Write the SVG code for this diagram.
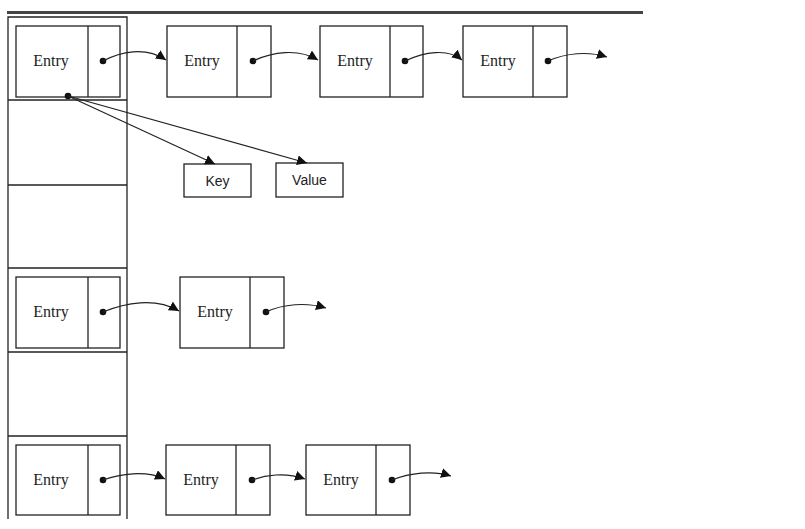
<svg xmlns="http://www.w3.org/2000/svg" width="805" height="529" viewBox="0 0 805 529">
<defs>
<style>
.box{fill:none;stroke:#222;stroke-width:1.3}
.ln{fill:none;stroke:#222;stroke-width:1.3}
.con{fill:none;stroke:#222;stroke-width:1.2;marker-end:url(#ah)}
.dot{fill:#111}
.et{font-family:"Liberation Serif",serif;font-size:16px;fill:#222;text-anchor:middle}
.kt{font-family:"Liberation Sans",Arial,sans-serif;font-size:14px;fill:#222;text-anchor:middle}
</style>
<marker id="ah" markerUnits="userSpaceOnUse" markerWidth="12" markerHeight="12" refX="10" refY="5" orient="auto">
<path d="M0,0 L10,5 L0,10 z" fill="#111"/>
</marker>
</defs>
<rect x="7" y="11" width="636" height="3" fill="#444"/>
<g id="table">
<path class="ln" d="M8,519 V17 H127 V519"/>
<line class="ln" x1="8" y1="100" x2="127" y2="100"/>
<line class="ln" x1="8" y1="185" x2="127" y2="185"/>
<line class="ln" x1="8" y1="268" x2="127" y2="268"/>
<line class="ln" x1="8" y1="352" x2="127" y2="352"/>
<line class="ln" x1="8" y1="436" x2="127" y2="436"/>
</g>
<g id="e1a"><rect class="box" x="16" y="26" width="104" height="71"/><line class="ln" x1="88" y1="26" x2="88" y2="97"/><text class="et" x="51" y="66">Entry</text><circle class="dot" cx="103" cy="61" r="3.3"/><circle class="dot" cx="68" cy="96" r="3.3"/></g>
<g id="e1b"><rect class="box" x="167" y="26" width="104" height="71"/><line class="ln" x1="237" y1="26" x2="237" y2="97"/><text class="et" x="202" y="66">Entry</text><circle class="dot" cx="253" cy="61" r="3.3"/></g>
<g id="e1c"><rect class="box" x="320" y="26" width="103" height="71"/><line class="ln" x1="390" y1="26" x2="390" y2="97"/><text class="et" x="355" y="66">Entry</text><circle class="dot" cx="405" cy="61" r="3.3"/></g>
<g id="e1d"><rect class="box" x="463" y="26" width="104" height="71"/><line class="ln" x1="533" y1="26" x2="533" y2="97"/><text class="et" x="498" y="66">Entry</text><circle class="dot" cx="548" cy="61" r="3.3"/></g>
<g id="key"><rect class="box" x="184" y="164" width="67" height="33"/><text class="kt" x="217.5" y="186">Key</text></g>
<g id="value"><rect class="box" x="276" y="163" width="67" height="34"/><text class="kt" x="309.5" y="185">Value</text></g>
<g id="e4a"><rect class="box" x="16" y="277" width="104" height="71"/><line class="ln" x1="88" y1="277" x2="88" y2="348"/><text class="et" x="51" y="317">Entry</text><circle class="dot" cx="103" cy="312" r="3.3"/></g>
<g id="e4b"><rect class="box" x="180" y="277" width="104" height="71"/><line class="ln" x1="250" y1="277" x2="250" y2="348"/><text class="et" x="215" y="317">Entry</text><circle class="dot" cx="266" cy="312" r="3.3"/></g>
<g id="e6a"><rect class="box" x="16" y="445" width="104" height="70"/><line class="ln" x1="88" y1="445" x2="88" y2="515"/><text class="et" x="51" y="485">Entry</text><circle class="dot" cx="103" cy="480" r="3.3"/></g>
<g id="e6b"><rect class="box" x="166" y="445" width="104" height="70"/><line class="ln" x1="236" y1="445" x2="236" y2="515"/><text class="et" x="201" y="485">Entry</text><circle class="dot" cx="252" cy="480" r="3.3"/></g>
<g id="e6c"><rect class="box" x="306" y="445" width="104" height="70"/><line class="ln" x1="376" y1="445" x2="376" y2="515"/><text class="et" x="341" y="485">Entry</text><circle class="dot" cx="392" cy="480" r="3.3"/></g>
<g id="connectors">
<path class="con" d="M103,61 C120,52 145,46 166,60"/>
<path class="con" d="M253,61 C272,52 298,48 318,60"/>
<path class="con" d="M405,61 C424,52 448,48 462,60"/>
<path class="con" d="M548,61 C566,53 588,51 607,57"/>
<line class="con" x1="68" y1="96" x2="215" y2="164"/>
<line class="con" x1="68" y1="96" x2="307" y2="163"/>
<path class="con" d="M103,312 C125,303 155,297 179,311"/>
<path class="con" d="M266,312 C283,304 306,302 326,308"/>
<path class="con" d="M103,480 C120,474 145,470 165,479"/>
<path class="con" d="M252,480 C265,475 285,472 305,479"/>
<path class="con" d="M392,480 C410,473 432,470 451,476"/>
</g>
</svg>
